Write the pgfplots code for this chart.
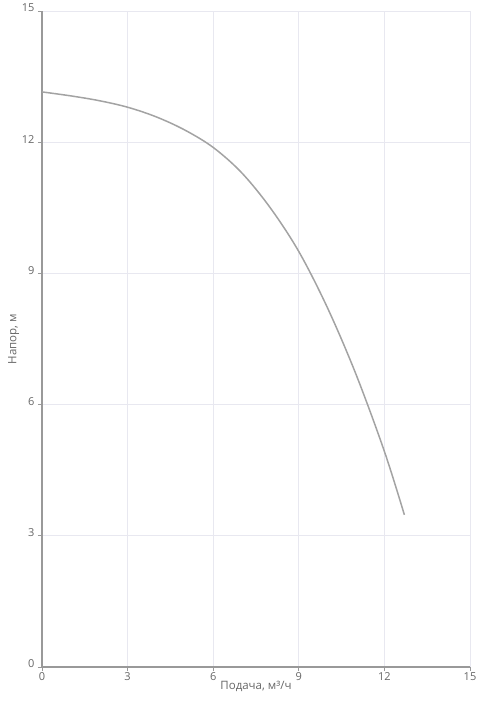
\documentclass[border=0pt]{standalone}
\usepackage{pgfplots}
\pgfplotsset{compat=1.18}
\usepackage{fontspec}
\setmainfont{Open Sans}
\definecolor{gridc}{HTML}{E8E8F0}
\definecolor{axc}{HTML}{999999}
\definecolor{txtc}{HTML}{666666}
\definecolor{curvec}{HTML}{A3A3A3}
\begin{document}
\begin{tikzpicture}
\path (-42pt,-38pt) rectangle (438pt,667pt);
\begin{axis}[
  scale only axis,
  width=428pt, height=656pt,
  xmin=0, xmax=15, ymin=0, ymax=15,
  xtick={0,3,6,9,12,15}, ytick={0,3,6,9,12,15},
  grid=major,
  major grid style={gridc, line width=0.8pt},
  axis lines*=left,
  axis line style={axc, line width=1.4pt},
  tick style={axc, line width=0.8pt},
  tick align=outside,
  major tick length=4pt,
  /pgf/number format/assume math mode=true,
  ticklabel style={font=\fontsize{11}{13}\selectfont, text=txtc},
  yticklabel style={yshift=3pt, xshift=0pt},
  xticklabel style={yshift=2pt},
  xlabel={Подача, м³/ч},
  ylabel={Напор, м},
  label style={font=\fontsize{11.5}{13}\selectfont, text=txtc},
  xlabel style={yshift=6pt},
  ylabel style={yshift=-4pt},
  clip=false,
]
\addplot[curvec, line width=1.5pt, smooth, tension=0.55] coordinates {
  (0,13.15) (1,13.06) (2,12.95) (3,12.80) (4,12.58) (5,12.28)
  (6,11.88) (7,11.30) (8,10.50) (9,9.50) (10,8.22) (11,6.70)
  (12,4.93) (12.7,3.48)
};
\end{axis}
\end{tikzpicture}
\end{document}
